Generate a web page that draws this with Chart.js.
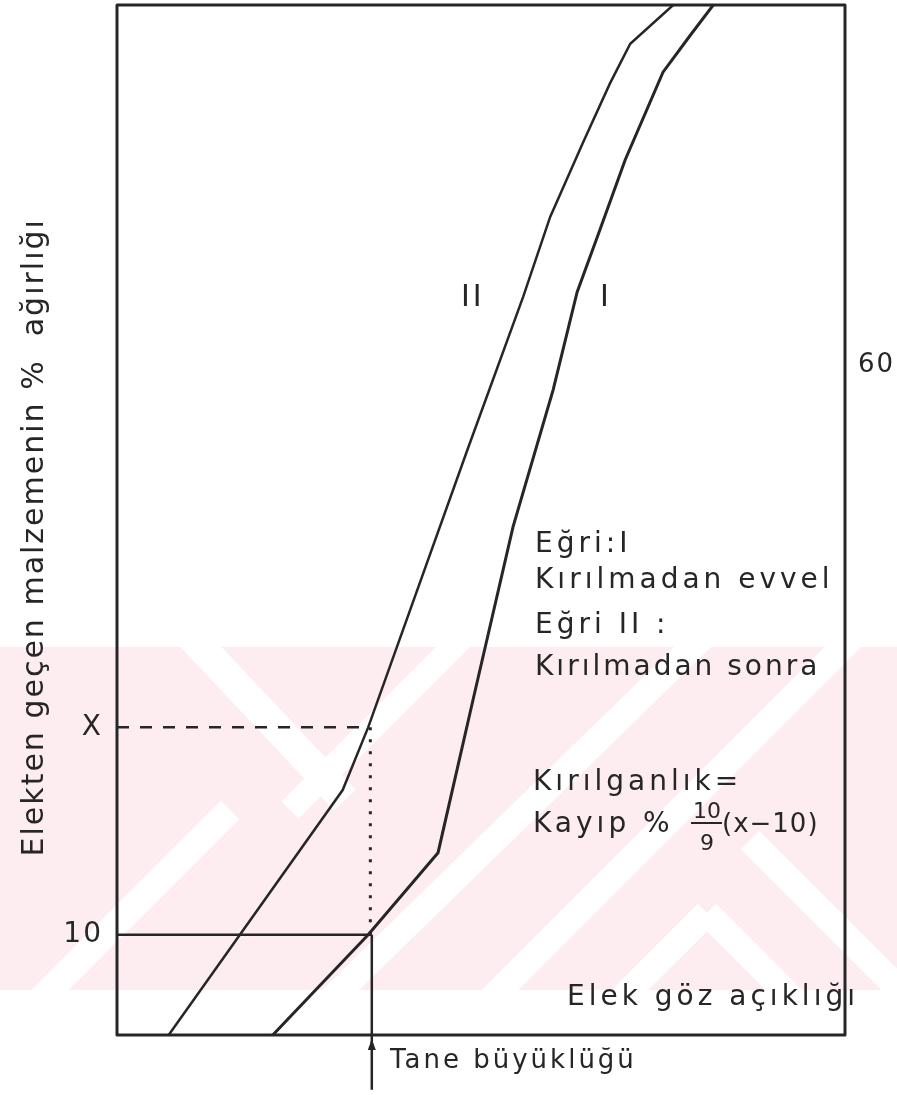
<!DOCTYPE html>
<html><head><meta charset="utf-8">
<script src="https://cdn.jsdelivr.net/npm/chart.js@4.4.1/dist/chart.umd.min.js"></script>
<style>html,body{margin:0;padding:0;background:#fff;} #wrap{width:897px;height:1095px;}</style>
</head><body><div id="wrap"><canvas id="c" width="897" height="1095"></canvas></div>
<script>
// ---- data (x: grain size, arbitrary units 0-100; y: % passing) ----
const curveIX  = [21.4, 34.5, 44.1, 48.9, 54.4, 59.9, 63.2, 66.3, 69.8, 75.0, 78.7, 81.9];
const curveIY  = [1.2, 10.0, 17.2, 30.6, 45.8, 57.8, 66.4, 71.8, 78.0, 85.7, 88.9, 91.6];
const curveIIX = [7.1, 31.0, 34.5, 48.1, 55.8, 59.5, 64.0, 67.7, 70.5, 76.4];
const curveIIY = [1.2, 22.7, 28.2, 52.5, 66.0, 73.0, 79.5, 84.7, 88.2, 91.6];
const xGuideX  = [0, 34.6];        // dashed line at X
const xGuideY  = [28.2, 28.2];
const dotGuideX = [34.8, 34.8];    // dotted drop from X to 10
const dotGuideY = [28.2, 10];
const tenGuideX = [0, 35.0];       // solid line at 10 %
const tenGuideY = [10, 10];
const sizeLineX = [35.0, 35.0];    // grain size line going below the axis
const sizeLineY = [10, -3.6];
const leftTicks = [10, 28.2];
const leftTickLabels = ['10', 'X'];
const rightTicks = [60];
const rightTickLabels = ['60'];
const yMin = 1.2, yMax = 91.6, xMin = 0, xMax = 100;

const INK = '#262626';
const FONT = '"DejaVu Sans", sans-serif';
const pts = (xs, ys) => xs.map((x, i) => ({x, y: ys[i]}));

const wmStripes = [
  [185,630, 345,800, 30],
  [290,810, 470,630, 24],
  [320,1010, 710,630, 26],
  [480,1010, 860,630, 26],
  [620,1000, 707,913, 26], [707,913, 800,1006, 26],
  [750,840, 900,990, 26],
  [40,1000, 230,810, 26]
];

const deco = {
  id: 'deco',
  beforeDraw(chart) {
    const ctx = chart.ctx;
    ctx.save();
    ctx.fillStyle = '#fff';
    ctx.fillRect(0, 0, chart.width, chart.height);
    ctx.beginPath(); ctx.rect(0, 647, 897, 343); ctx.clip();
    ctx.fillStyle = '#fdedf0';
    ctx.fillRect(0, 647, 897, 343);
    ctx.strokeStyle = '#fff'; ctx.lineCap = 'butt';
    wmStripes.forEach(s => { ctx.lineWidth = s[4]; ctx.beginPath(); ctx.moveTo(s[0], s[1]); ctx.lineTo(s[2], s[3]); ctx.stroke(); });
    ctx.restore();
    ctx.letterSpacing = '2px';
  },
  beforeDatasetsDraw(chart) { chart.ctx.letterSpacing = '0px'; },
  afterDatasetsDraw(chart) {
    const ctx = chart.ctx, a = chart.chartArea, xs = chart.scales.x;
    ctx.save();
    ctx.strokeStyle = INK; ctx.lineWidth = 3; ctx.lineJoin = 'round';
    ctx.strokeRect(a.left, a.top, a.right - a.left, a.bottom - a.top);
    // arrow head on grain-size line
    const ax = xs.getPixelForValue(sizeLineX[0]);
    ctx.fillStyle = INK;
    ctx.beginPath(); ctx.moveTo(ax, a.bottom + 4); ctx.lineTo(ax - 4, a.bottom + 15); ctx.lineTo(ax + 4, a.bottom + 15); ctx.closePath(); ctx.fill();
    const T = (s, x, y, size, sp, align) => {
      ctx.font = size + 'px ' + FONT; ctx.letterSpacing = sp + 'px';
      ctx.textAlign = align || 'left'; ctx.textBaseline = 'alphabetic'; ctx.fillStyle = INK;
      ctx.fillText(s, x, y);
    };
    T('II', 461, 306, 30, 3);
    T('I', 600, 306, 30, 0);
    T('Eğri:I', 535, 552, 28, 4);
    T('Kırılmadan evvel', 535, 588, 28, 4);
    T('Eğri II :', 535, 633, 28, 4);
    T('Kırılmadan sonra', 535, 675, 28, 3);
    T('Kırılganlık=', 533, 790, 28, 4);
    T('Kayıp %', 533, 832, 28, 4);
    T('10', 707, 818, 22, 0, 'center');
    ctx.lineWidth = 2; ctx.beginPath(); ctx.moveTo(691, 823); ctx.lineTo(722, 823); ctx.stroke();
    T('9', 707, 850, 22, 0, 'center');
    T('(x−10)', 722, 832, 26, 1);
    T('Elek göz açıklığı', 567, 1005, 28, 4);
    T('Tane büyüklüğü', 390, 1068, 26, 3);
    ctx.restore();
  }
};

const noPad = s => { s.paddingTop = 0; s.paddingBottom = 0; s.paddingLeft = 0; s.paddingRight = 0; };

new Chart(document.getElementById('c'), {
  type: 'line',
  data: {
    datasets: [
      {data: pts(curveIX, curveIY), borderColor: INK, borderWidth: 3},
      {data: pts(curveIIX, curveIIY), borderColor: INK, borderWidth: 2.5},
      {data: pts(xGuideX, xGuideY), borderColor: INK, borderWidth: 2.5, borderDash: [12, 11]},
      {data: pts(dotGuideX, dotGuideY), borderColor: INK, borderWidth: 3, borderDash: [3, 9]},
      {data: pts(tenGuideX, tenGuideY), borderColor: INK, borderWidth: 2.5},
      {data: pts(sizeLineX, sizeLineY), borderColor: INK, borderWidth: 2.5, clip: false}
    ]
  },
  options: {
    responsive: false, animation: false, devicePixelRatio: 1,
    layout: {padding: {top: 5, left: 0, right: 0, bottom: 0}},
    elements: {point: {radius: 0}, line: {tension: 0, fill: false}},
    plugins: {legend: {display: false}, tooltip: {enabled: false}},
    scales: {
      x: {type: 'linear', min: xMin, max: xMax, position: 'bottom',
          grid: {display: false, drawTicks: false}, border: {display: false},
          ticks: {display: false},
          afterFit: s => { s.height = 60; noPad(s); }},
      y: {type: 'linear', min: yMin, max: yMax, position: 'left',
          grid: {display: false, drawTicks: false}, border: {display: false},
          afterBuildTicks: s => { s.ticks = leftTicks.map(v => ({value: v})); },
          ticks: {padding: 14, color: INK, font: {family: FONT, size: 28},
                  callback: v => leftTickLabels[leftTicks.indexOf(v)]},
          title: {display: true, text: 'Elekten geçen malzemenin %  ağırlığı   ', color: INK,
                  font: {family: FONT, size: 30}, padding: {top: 17, bottom: 0}},
          afterFit: s => { s.width = 117; noPad(s); }},
      y2: {type: 'linear', min: yMin, max: yMax, position: 'right',
          grid: {display: false, drawTicks: false}, border: {display: false},
          afterBuildTicks: s => { s.ticks = rightTicks.map(v => ({value: v})); },
          ticks: {padding: 13, color: INK, font: {family: FONT, size: 26},
                  callback: v => rightTickLabels[rightTicks.indexOf(v)]},
          afterFit: s => { s.width = 52; noPad(s); }}
    }
  },
  plugins: [deco]
});
</script></body></html>
